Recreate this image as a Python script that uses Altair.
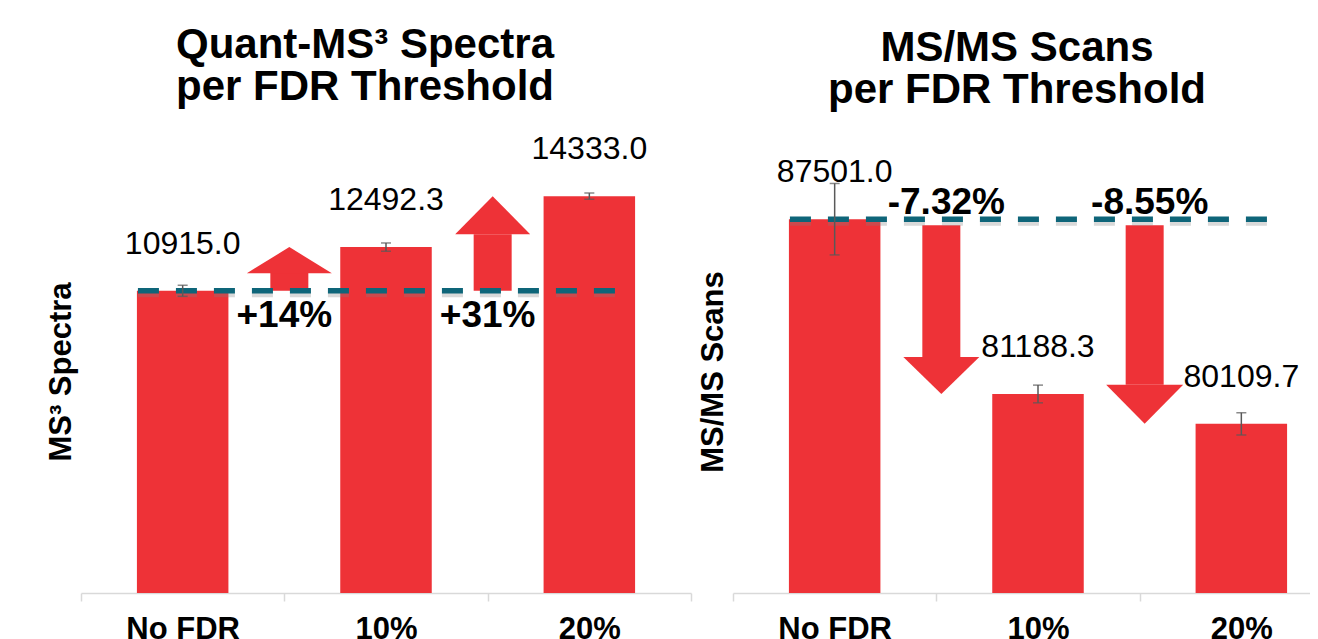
import altair as alt
import pandas as pd

categories = ["No FDR", "10%", "20%"]
ms3_values = [10915.0, 12492.3, 14333.0]
ms3_errors = [200.0, 150.0, 110.0]
msms_values = [87501.0, 81188.3, 80109.7]
msms_errors = [1290.0, 320.0, 400.0]
ms3_changes = ["+14%", "+31%"]
msms_changes = ["-7.32%", "-8.55%"]
ms3_domain = [0, 16000]
msms_domain = [74000, 90000]
ms3_title = ["Quant-MS³ Spectra", "per FDR Threshold"]
msms_title = ["MS/MS Scans", "per FDR Threshold"]
ms3_ytitle = "MS³ Spectra"
msms_ytitle = "MS/MS Scans"

RED = "#EE3237"
TEAL = "#0E6579"
AXISGRAY = "#D9D9D9"
ERRGRAY = "#595959"
FONT = "Liberation Sans"
W, H = 610, 443
STEP = W / 3


def arrow_path(w, h, up):
    k = 2.0 * h / w
    s = k if up else -k
    return f"M-1,{s:.3f}L0,0L1,{s:.3f}Z"


def panel(values, errors, changes, domain, title, ytitle, up, heads,
          change_baseline, change_dx, change_dy, shaft_start, title_offset):
    df = pd.DataFrame({
        "cat": categories,
        "value": values,
        "lo": [v - e for v, e in zip(values, errors)],
        "hi": [v + e for v, e in zip(values, errors)],
        "label": [f"{v:.1f}" for v in values],
    })
    base = values[0]
    arrows = pd.DataFrame({
        "cat": categories[1:],
        "target": values[1:],
        "base": [base] * (len(values) - 1),
        "change": changes,
    })
    base_df = pd.DataFrame({"base": [base]})

    xs = alt.Scale(domain=categories, paddingInner=0, paddingOuter=0)
    ys = alt.Scale(domain=domain, nice=False, zero=False)
    x_axis = alt.Axis(title=None, labelAngle=0, labelFont=FONT, labelFontSize=31,
                      labelFontWeight="bold", labelColor="#000000", labelPadding=13,
                      tickBand="extent", tickSize=8, tickWidth=1.5, tickColor=AXISGRAY,
                      domainColor=AXISGRAY, domainWidth=1.5, grid=False)
    y_axis = alt.Axis(title=ytitle, labels=False, ticks=False, domain=False, grid=False,
                      titleFont=FONT, titleFontSize=31, titleFontWeight="bold",
                      titleColor="#000000", titlePadding=4)

    X = alt.X("cat:N", sort=categories, scale=xs, axis=x_axis)
    XB = alt.X("cat:N", sort=categories, scale=xs, axis=x_axis, bandPosition=0)

    def Yf(field):
        return alt.Y(field, scale=ys, axis=y_axis)

    bars = alt.Chart(df).mark_bar(color=RED, width=alt.RelativeBandSize(0.45)).encode(
        x=X, y=Yf("value:Q"), y2=alt.datum(domain[0]))

    layers = [bars]

    sign = 1 if up else -1
    for i, (hw, hh) in enumerate(heads):
        sub = arrows.iloc[[i]]
        shaft = alt.Chart(sub).mark_rule(
            color=RED, strokeWidth=38, xOffset=5, yOffset=shaft_start,
            y2Offset=sign * hh).encode(x=XB, y=Yf("base:Q"), y2="target:Q")
        head = alt.Chart(sub).mark_point(
            shape=arrow_path(hw, hh, up), size=hw * hw, filled=True, color=RED,
            opacity=1, strokeWidth=0, xOffset=5).encode(x=XB, y=Yf("target:Q"))
        layers += [shaft, head]

    shadow = alt.Chart(base_df).mark_rule(
        color="#808080", opacity=0.3, strokeWidth=7, strokeDash=[21, 17], yOffset=3).encode(
        y=Yf("base:Q"), x=alt.value(0.28 * STEP), x2=alt.value(W - 70))
    dashed = alt.Chart(base_df).mark_rule(
        color=TEAL, strokeWidth=5.5, strokeDash=[21, 17]).encode(
        y=Yf("base:Q"), x=alt.value(0.28 * STEP), x2=alt.value(W - 70))
    layers += [shadow, dashed]

    err = alt.Chart(df).mark_rule(color=ERRGRAY, strokeWidth=1.5).encode(
        x=X, y=Yf("lo:Q"), y2="hi:Q")
    cap_lo = alt.Chart(df).mark_tick(color=ERRGRAY, size=10, thickness=1.5).encode(
        x=X, y=Yf("lo:Q"))
    cap_hi = alt.Chart(df).mark_tick(color=ERRGRAY, size=10, thickness=1.5).encode(
        x=X, y=Yf("hi:Q"))
    labels = alt.Chart(df).mark_text(
        font=FONT, fontSize=32, color="#000000", baseline="alphabetic", dy=-37).encode(
        x=X, y=Yf("value:Q"), text="label:N")
    change_text = alt.Chart(arrows).mark_text(
        font=FONT, fontSize=37, fontWeight="bold", color="#000000",
        baseline=change_baseline, dx=change_dx, dy=change_dy).encode(
        x=XB, y=Yf("base:Q"), text="change:N")
    layers += [err, cap_lo, cap_hi, labels, change_text]

    return alt.layer(*layers).properties(
        width=W, height=H,
        title=alt.TitleParams(text=title[0], subtitle=title[1], font=FONT, fontSize=42,
                              fontWeight="bold", color="#000000",
                              subtitleFont=FONT, subtitleFontSize=42,
                              subtitleFontWeight="bold", subtitleColor="#000000",
                              subtitlePadding=0, anchor="middle", frame="group", dx=-21,
                              offset=title_offset))


left = panel(ms3_values, ms3_errors, ms3_changes, ms3_domain, ms3_title, ms3_ytitle,
             True, [(85, 26), (75, 38)], "top", 0, 7, 0, 24)
right = panel(msms_values, msms_errors, msms_changes, msms_domain, msms_title, msms_ytitle,
              False, [(76, 37), (77, 39)], "alphabetic", 10, -5, 6, 38)

# the original figure is cropped at its right edge; the negative right padding
# reproduces that crop without the page shrinking the drawing to fit
chart = alt.hconcat(left, right, spacing=5).properties(
    padding={"left": 37, "top": 16, "right": -34, "bottom": 0}
).configure_view(stroke=None)

chart.save("out.html", embed_options={"renderer": "svg", "actions": False})
